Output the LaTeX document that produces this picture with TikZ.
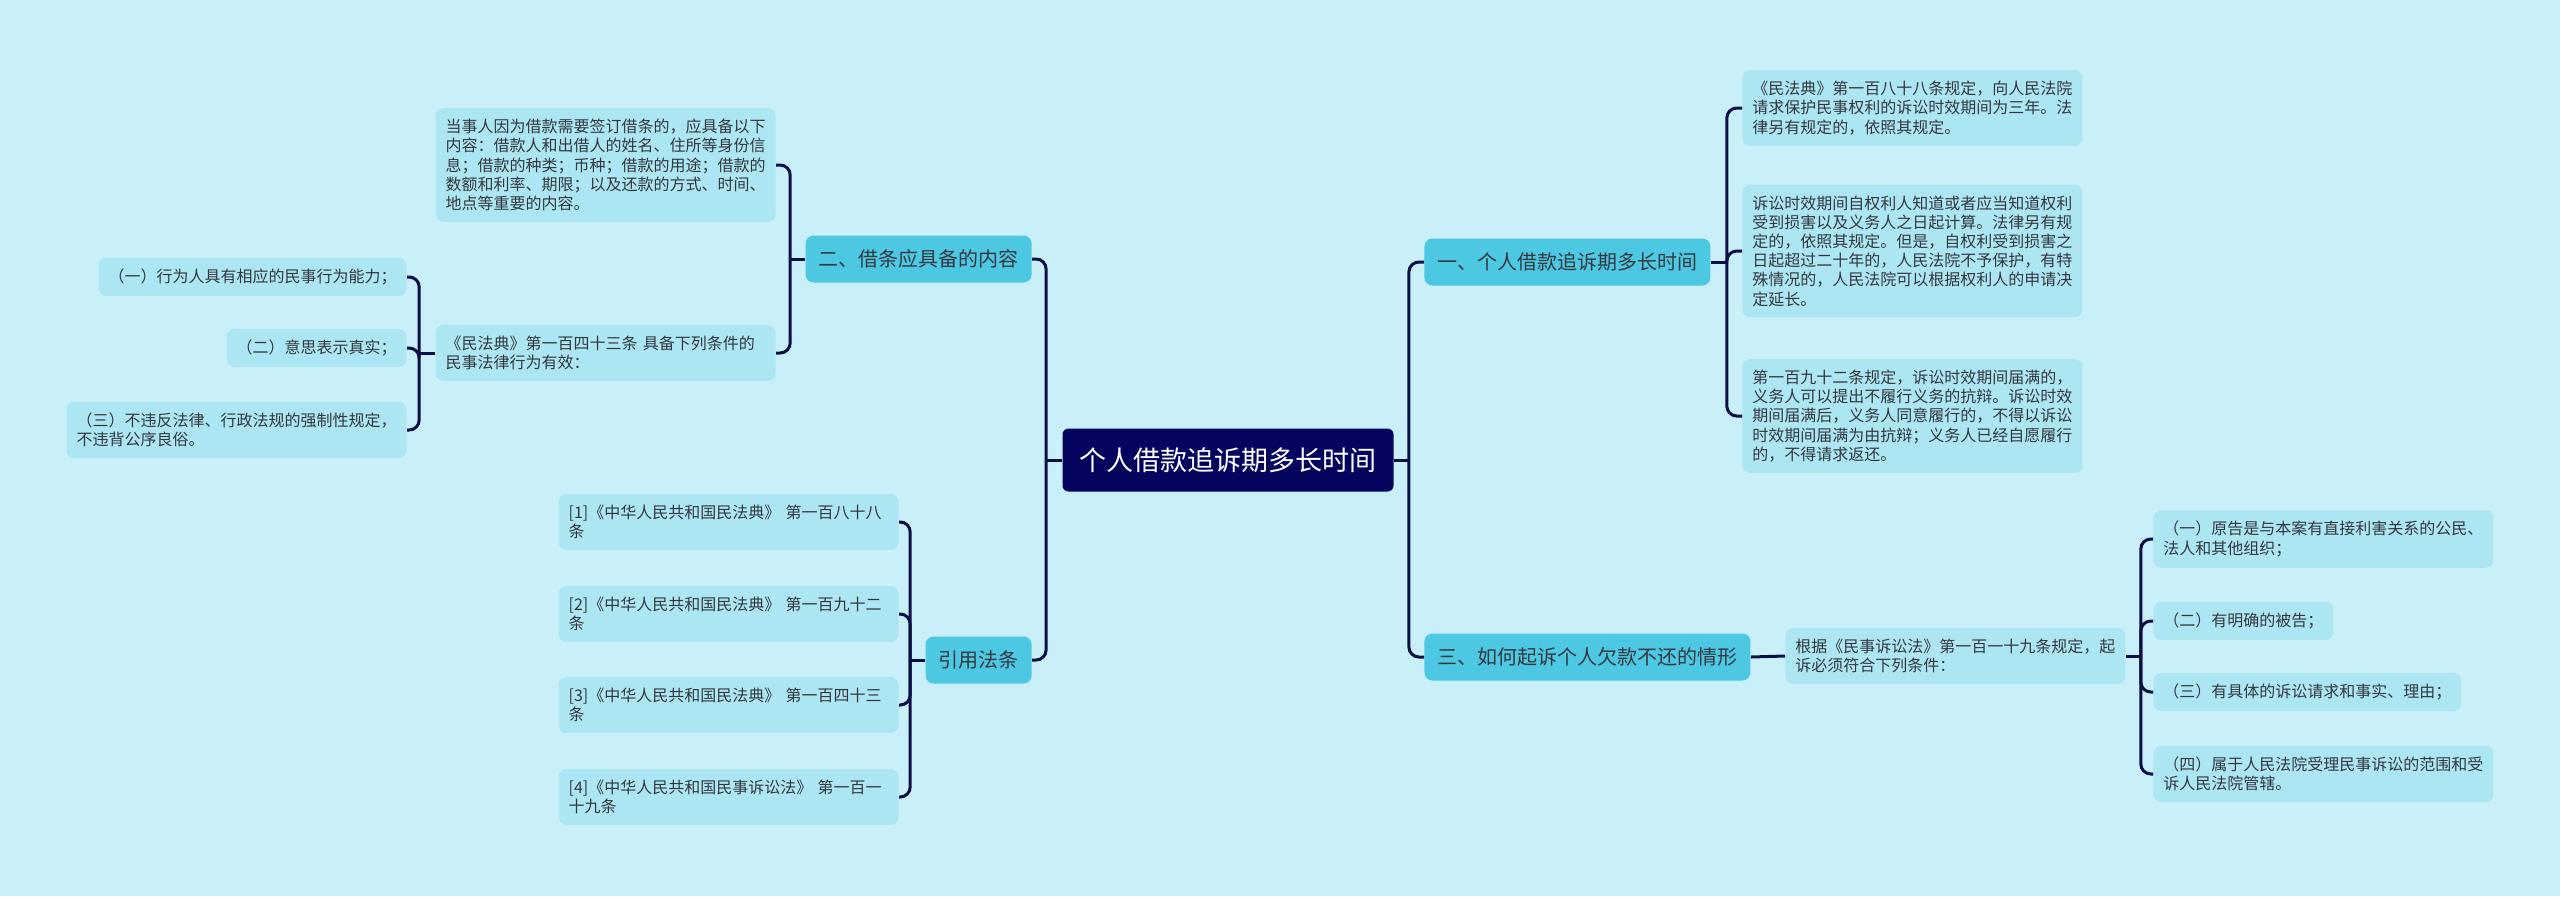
\documentclass[tikz,border=0pt]{standalone}
\usepackage{fontspec}
\newfontfamily\cjk{Noto Sans CJK SC}
\definecolor{bgc}{HTML}{C9F0F8}
\definecolor{rootc}{HTML}{04045E}
\definecolor{topicc}{HTML}{4DC8E2}
\definecolor{leafc}{HTML}{ADE6F3}
\definecolor{linec}{HTML}{0A0F45}
\definecolor{textc}{HTML}{333840}
\tikzset{
  mapline/.style={draw=linec, line width=1.5pt, rounded corners=5pt},
  rootbox/.style={fill=rootc, text=white, rounded corners=3pt,
    font=\cjk\fontsize{13.5}{16}\selectfont, minimum height=31.5pt, inner xsep=8.5pt},
  topicbox/.style={fill=topicc, text=textc, rounded corners=4pt,
    font=\cjk\fontsize{10}{12}\selectfont, minimum height=23.5pt, inner xsep=6.5pt},
  leafbox/.style={fill=leafc, text=textc, rounded corners=4pt,
    font=\cjk\fontsize{8}{9.6}\selectfont, align=left, inner xsep=5pt, inner ysep=5.5pt},
  wideleaf/.style={leafbox, text width=160pt},
}
\begin{document}
\begin{tikzpicture}[x=0.5pt,y=-0.5pt]
\fill[bgc] (0,0) rectangle (2560,896);
\useasboundingbox (0,0) rectangle (2560,896);

% centre
\node[rootbox] (root) at (1228,460) {个人借款追诉期多长时间};

% right topics
\node[topicbox, anchor=west] (t1) at (1424,262) {一、个人借款追诉期多长时间};
\node[topicbox, anchor=west] (t3) at (1424,657) {三、如何起诉个人欠款不还的情形};

% left topics
\node[topicbox, anchor=east] (t2) at (1032,259) {二、借条应具备的内容};
\node[topicbox, anchor=east] (t4) at (1032,660) {引用法条};

% topic one
\node[wideleaf, anchor=west] (t1a) at (1742,108) {《民法典》第一百八十八条规定，向人民法院\\请求保护民事权利的诉讼时效期间为三年。法\\律另有规定的，依照其规定。};
\node[wideleaf, anchor=west] (t1b) at (1742,251) {诉讼时效期间自权利人知道或者应当知道权利\\受到损害以及义务人之日起计算。法律另有规\\定的，依照其规定。但是，自权利受到损害之\\日起超过二十年的，人民法院不予保护，有特\\殊情况的，人民法院可以根据权利人的申请决\\定延长。};
\node[wideleaf, anchor=west] (t1c) at (1742,416) {第一百九十二条规定，诉讼时效期间届满的，\\义务人可以提出不履行义务的抗辩。诉讼时效\\期间届满后，义务人同意履行的，不得以诉讼\\时效期间届满为由抗辩；义务人已经自愿履行\\的，不得请求返还。};

% topic three
\node[wideleaf, anchor=west] (t3a) at (1785,656) {根据《民事诉讼法》第一百一十九条规定，起\\诉必须符合下列条件：};
\node[leafbox, anchor=west] (c1) at (2153,539) {（一）原告是与本案有直接利害关系的公民、\\法人和其他组织；};
\node[leafbox, anchor=west] (c2) at (2153,621) {（二）有明确的被告；};
\node[leafbox, anchor=west] (c3) at (2153,692) {（三）有具体的诉讼请求和事实、理由；};
\node[leafbox, anchor=west] (c4) at (2153,774) {（四）属于人民法院受理民事诉讼的范围和受\\诉人民法院管辖。};

% topic two
\node[wideleaf, anchor=east] (t2a) at (776,165) {当事人因为借款需要签订借条的，应具备以下\\内容：借款人和出借人的姓名、住所等身份信\\息；借款的种类；币种；借款的用途；借款的\\数额和利率、期限；以及还款的方式、时间、\\地点等重要的内容。};
\node[wideleaf, anchor=east] (t2b) at (776,353) {《民法典》第一百四十三条 具备下列条件的\\民事法律行为有效：};
\node[leafbox, anchor=east] (d1) at (407,277) {（一）行为人具有相应的民事行为能力；};
\node[leafbox, anchor=east] (d2) at (407,348) {（二）意思表示真实；};
\node[leafbox, anchor=east] (d3) at (407,430) {（三）不违反法律、行政法规的强制性规定，\\不违背公序良俗。};

% references
\node[wideleaf, anchor=east] (r1) at (899,522) {[1]《中华人民共和国民法典》 第一百八十八\\条};
\node[wideleaf, anchor=east] (r2) at (899,614) {[2]《中华人民共和国民法典》 第一百九十二\\条};
\node[wideleaf, anchor=east] (r3) at (899,705) {[3]《中华人民共和国民法典》 第一百四十三\\条};
\node[wideleaf, anchor=east] (r4) at (899,797) {[4]《中华人民共和国民事诉讼法》 第一百一\\十九条};

% connectors
\draw[mapline] (root.east) -- ++(15,0) coordinate (jr);
\foreach \c in {t1,t3} \draw[mapline] (jr) |- (\c.west);
\draw[mapline] (root.west) -- ++(-16,0) coordinate (jl);
\foreach \c in {t2,t4} \draw[mapline] (jl) |- (\c.east);

\draw[mapline] (t1.east) -- ++(16,0) coordinate (j1);
\foreach \c in {t1a,t1b,t1c} \draw[mapline] (j1) |- (\c.west);
\draw[mapline] (t3.east) -- (t3a.west);
\draw[mapline] (t3a.east) -- ++(15,0) coordinate (j3);
\foreach \c in {c1,c2,c3,c4} \draw[mapline] (j3) |- (\c.west);

\draw[mapline] (t2.west) -- ++(-15,0) coordinate (j2);
\foreach \c in {t2a,t2b} \draw[mapline] (j2) |- (\c.east);
\draw[mapline] (t2b.west) -- ++(-16,0) coordinate (j2b);
\foreach \c in {d1,d2,d3} \draw[mapline] (j2b) |- (\c.east);
\draw[mapline] (t4.west) -- ++(-15,0) coordinate (j4);
\foreach \c in {r1,r2,r3,r4} \draw[mapline] (j4) |- (\c.east);
\end{tikzpicture}
\end{document}
